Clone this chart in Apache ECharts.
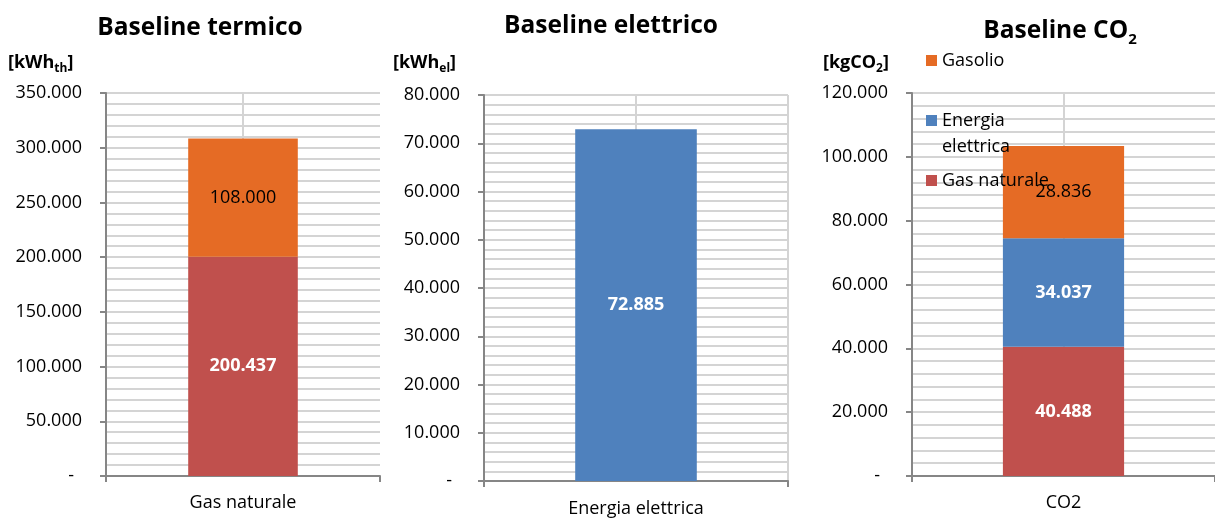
<!DOCTYPE html>
<html>
<head>
<meta charset="utf-8">
<script src="https://cdn.jsdelivr.net/npm/echarts@6/dist/echarts.min.js"></script>
<style>
  html, body { margin: 0; padding: 0; background: #fff; }
  #c { width: 1215px; height: 518px; }
</style>
</head>
<body>
<div id="c"></div>
<script>
// Categories
const catTermico = ['Gas naturale'];
const catElettrico = ['Energia elettrica'];
const catCO2 = ['CO2'];

// Series values
const termicoGasNaturale = [200437];
const termicoGasolio = [108000];
const elettricoEnergia = [72885];
const co2GasNaturale = [40488];
const co2Energia = [34037];
const co2Gasolio = [28836];

// Value axis ranges (max and major step for each panel)
const yMax = [350000, 80000, 120000];
const yStep = [50000, 10000, 20000];

const FONT = 'Open Sans';
const RED = '#C0504D';
const ORANGE = '#E56B25';
const BLUE = '#4F81BD';
const AXIS = '#868686';
const GRID = '#d4d4d4';

// Italian thousands separator, dash for zero
function fmt(v) {
  return String(Math.round(v)).replace(/\B(?=(\d{3})+(?!\d))/g, '.');
}
function axisFmt(v) {
  return v === 0 ? '{d|-}' : fmt(v);
}

const grids = [
  { left: 106, top: 93, width: 274, height: 383 },
  { left: 484, top: 95, width: 304, height: 386 },
  { left: 912, top: 93, width: 309, height: 383 }
];
const cats = [catTermico, catElettrico, catCO2];

const xAxes = [];
const yAxes = [];
cats.forEach((c, i) => {
  xAxes.push({
    type: 'category', gridIndex: i, data: c,
    axisLine: { lineStyle: { color: AXIS, width: 2 } },
    axisTick: { show: true, length: 6, lineStyle: { color: AXIS, width: 2 } },
    axisLabel: { color: '#000', fontSize: 18, fontFamily: FONT, margin: i === 1 ? 19 : 18 },
    splitLine: { show: false }
  });
  yAxes.push({
    type: 'value', gridIndex: i, min: 0, max: yMax[i], interval: yStep[i],
    axisLine: { show: true, lineStyle: { color: AXIS, width: 2 } },
    axisTick: { show: true, length: 6, lineStyle: { color: AXIS, width: 2 } },
    axisLabel: {
      color: '#000', fontSize: 18, fontFamily: FONT, margin: 24,
      formatter: axisFmt,
      rich: { d: { fontSize: 18, fontFamily: FONT, color: '#000', padding: [0, 8, 0, 0] } }
    },
    splitLine: { show: true, lineStyle: { color: GRID, width: 2 } },
    minorTick: { show: false, splitNumber: 5 },
    minorSplitLine: { show: true, lineStyle: { color: GRID, width: 2 } }
  });
});
// Helper axes that only draw the central vertical gridline of each panel
cats.forEach((c, i) => {
  xAxes.push({
    type: 'value', gridIndex: i, min: 0, max: 2, interval: 1, position: 'top',
    axisLine: { show: false }, axisTick: { show: false }, axisLabel: { show: false },
    splitLine: {
      show: true, showMinLine: false, showMaxLine: i === 1,
      lineStyle: { color: GRID, width: 2 }
    }
  });
});

function lbl(dark) {
  return {
    show: true, position: 'inside', fontFamily: FONT, fontSize: 18,
    color: dark ? '#000' : '#fff', fontWeight: dark ? 'normal' : 'bold',
    formatter: p => fmt(p.value)
  };
}
function bar(name, data, idx, color, stack, darkLabel) {
  return {
    type: 'bar', name: name, data: data, xAxisIndex: idx, yAxisIndex: idx,
    stack: stack, barWidth: '40%', itemStyle: { color: color },
    label: lbl(darkLabel), emphasis: { disabled: true }
  };
}

const legendBase = {
  orient: 'vertical', left: 926, padding: 0, icon: 'rect',
  itemWidth: 11, itemHeight: 11, itemGap: 0, selectedMode: false,
  textStyle: { fontFamily: FONT, fontSize: 18, color: '#000', lineHeight: 26 }
};

function unitLabel(x, main, sub) {
  return {
    type: 'text', x: x, y: 51,
    style: {
      text: '{b|' + main + '}{s|' + sub + '}{b|]}',
      rich: {
        b: { fontFamily: FONT, fontSize: 18, fontWeight: 'bold', lineHeight: 24, fill: '#000' },
        s: { fontFamily: FONT, fontSize: 12, fontWeight: 'bold', lineHeight: 12, verticalAlign: 'bottom', fill: '#000' }
      }
    }
  };
}
function titleText(x, y, main, sub) {
  return {
    type: 'text', x: x, y: y,
    style: {
      text: '{t|' + main + '}' + (sub ? '{s|' + sub + '}' : ''),
      align: 'center', verticalAlign: 'middle',
      rich: {
        t: { fontFamily: FONT, fontSize: 24.5, fontWeight: 'bold', lineHeight: 32, fill: '#000' },
        s: { fontFamily: FONT, fontSize: 15, fontWeight: 'bold', lineHeight: 15, verticalAlign: 'bottom', fill: '#000' }
      }
    }
  };
}

const option = {
  animation: false,
  textStyle: { fontFamily: FONT },
  grid: grids,
  xAxis: xAxes,
  yAxis: yAxes,
  legend: [
    Object.assign({}, legendBase, { top: 47.5, data: ['Gasolio'] }),
    // two-line entry: a blank first line keeps "Energia" level with its swatch
    Object.assign({}, legendBase, {
      top: 81.5, data: ['Energia elettrica'],
      formatter: n => ' \n' + n.replace(' ', '\n')
    }),
    Object.assign({}, legendBase, { top: 167.5, data: ['Gas naturale'] })
  ],
  graphic: [
    titleText(200, 28, 'Baseline termico'),
    titleText(611, 26, 'Baseline elettrico'),
    titleText(1060, 31, 'Baseline CO', '2'),
    unitLabel(8, '[kWh', 'th'),
    unitLabel(393, '[kWh', 'el'),
    unitLabel(823, '[kgCO', '2')
  ],
  series: [
    bar('Gas naturale', termicoGasNaturale, 0, RED, 'termico', false),
    bar('Gasolio', termicoGasolio, 0, ORANGE, 'termico', true),
    bar('Energia elettrica', elettricoEnergia, 1, BLUE, 'elettrico', false),
    bar('Gas naturale', co2GasNaturale, 2, RED, 'co2', false),
    bar('Energia elettrica', co2Energia, 2, BLUE, 'co2', false),
    bar('Gasolio', co2Gasolio, 2, ORANGE, 'co2', true)
  ]
};

const chart = echarts.init(document.getElementById('c'), null, { renderer: 'canvas' });
chart.setOption(option);
</script>
</body>
</html>
